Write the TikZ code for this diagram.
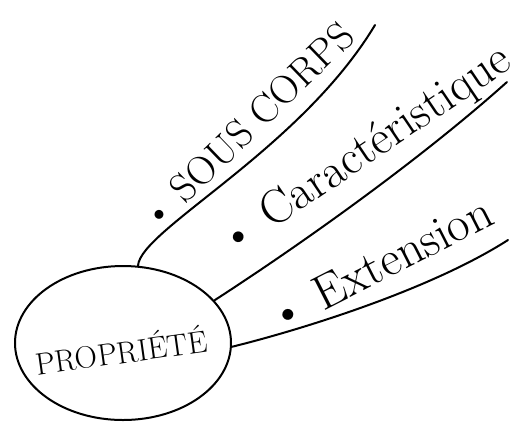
\documentclass[tikz,border=0pt]{standalone}
\usepackage{fontspec}
\usetikzlibrary{shapes.geometric}
\tikzset{
  ink/.style={line width=2pt, line cap=round, black},
  mainbox/.style={ellipse, draw, line width=2pt, minimum width=216pt, minimum height=154pt, inner sep=0pt},
  leaf/.style={inner sep=0pt, anchor=center}
}
\begin{document}
\begin{tikzpicture}[x=1pt, y=-1pt]
\useasboundingbox (0,0) rectangle (518,429);
\node[mainbox] (prop) at (123,343) {};
\node[leaf, rotate=8, font=\fontsize{31}{33}\selectfont] (proptext) at (121,350) {PROPRIÉTÉ};
\coordinate (e1) at (375,25);
\coordinate (e2) at (507,82);
\coordinate (e3) at (508,240);
\draw[ink] (prop.79) .. controls (140,230) and (300,150) .. (e1);
\draw[ink] (prop.25) .. controls (300,245) and (420,160) .. (e2);
\draw[ink] (prop.-2) .. controls (300,330) and (430,290) .. (e3);
\node[leaf, rotate=44, font=\fontsize{40}{42}\selectfont] (t1) at (247,126) {\textbullet\ SOUS CORPS};
\node[leaf, rotate=34, font=\fontsize{48}{50}\selectfont] (t2) at (366,152) {\textbullet\ Caractéristique};
\node[leaf, rotate=27, font=\fontsize{49}{51}\selectfont] (t3) at (380,264) {\textbullet\ Extension};
\end{tikzpicture}
\end{document}
